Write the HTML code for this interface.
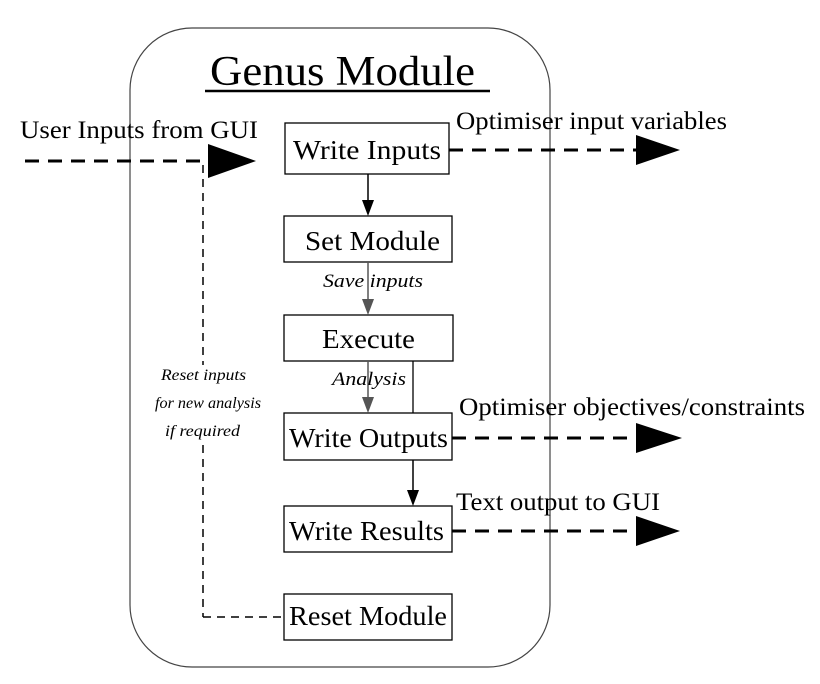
<!DOCTYPE html>
<html><head><style>body{margin:0;background:#fff}</style></head><body>
<svg width="820" height="679" viewBox="0 0 820 679" xmlns="http://www.w3.org/2000/svg" font-family="Liberation Serif, serif">
<rect x="130" y="28" width="420" height="639" rx="62" fill="none" stroke="#444" stroke-width="1.2"/>
<text x="210" y="85" font-size="42" textLength="265" lengthAdjust="spacingAndGlyphs">Genus Module</text>
<line x1="205" y1="91" x2="490" y2="91" stroke="#000" stroke-width="2.5"/>
<g fill="#fff" stroke="#000" stroke-width="1.3">
<rect x="285" y="123" width="164" height="51"/>
<rect x="284" y="216" width="168" height="46"/>
<rect x="284" y="315" width="169" height="46"/>
<rect x="284" y="413" width="168" height="47"/>
<rect x="284" y="506" width="168" height="46"/>
<rect x="284" y="594" width="168" height="46"/>
</g>
<g font-size="27" lengthAdjust="spacingAndGlyphs">
<text x="293" y="159" textLength="148" lengthAdjust="spacingAndGlyphs">Write Inputs</text>
<text x="305" y="250" textLength="135" lengthAdjust="spacingAndGlyphs">Set Module</text>
<text x="322" y="348" textLength="93" lengthAdjust="spacingAndGlyphs">Execute</text>
<text x="289" y="447" textLength="159" lengthAdjust="spacingAndGlyphs">Write Outputs</text>
<text x="289" y="540" textLength="155" lengthAdjust="spacingAndGlyphs">Write Results</text>
<text x="289" y="625" textLength="158" lengthAdjust="spacingAndGlyphs">Reset Module</text>
</g>
<line x1="368" y1="174" x2="368" y2="203" stroke="#000" stroke-width="1.5"/>
<polygon points="362,200 374,200 368,216" fill="#000"/>
<line x1="368" y1="262" x2="368" y2="302" stroke="#555" stroke-width="1.5"/>
<polygon points="362,299 374,299 368,315" fill="#555"/>
<line x1="368" y1="361" x2="368" y2="400" stroke="#555" stroke-width="1.5"/>
<polygon points="362,397 374,397 368,413" fill="#555"/>
<line x1="413" y1="361" x2="413" y2="413" stroke="#000" stroke-width="1.3"/>
<line x1="413" y1="460" x2="413" y2="493" stroke="#000" stroke-width="1.5"/>
<polygon points="407,490 419,490 413,506" fill="#000"/>
<g font-size="19" font-style="italic">
<text x="323" y="287" textLength="100" lengthAdjust="spacingAndGlyphs">Save inputs</text>
<text x="332" y="385" textLength="74" lengthAdjust="spacingAndGlyphs">Analysis</text>
</g>
<g font-size="16" font-style="italic">
<text x="161" y="380" textLength="85" lengthAdjust="spacingAndGlyphs">Reset inputs</text>
<text x="155" y="408" textLength="106" lengthAdjust="spacingAndGlyphs">for new analysis</text>
<text x="165" y="436" textLength="75" lengthAdjust="spacingAndGlyphs">if required</text>
</g>
<g stroke="#000" stroke-width="3" stroke-dasharray="14,9" fill="none">
<line x1="25" y1="161" x2="212" y2="161"/>
<line x1="449" y1="150" x2="640" y2="150"/>
<line x1="452" y1="438" x2="640" y2="438"/>
<line x1="452" y1="531" x2="640" y2="531"/>
</g>
<g stroke="#000" stroke-width="1.5" stroke-dasharray="8,6" fill="none">
<line x1="203" y1="165" x2="203" y2="365"/>
<line x1="203" y1="445" x2="203" y2="617"/>
<line x1="203" y1="617" x2="284" y2="617"/>
</g>
<polygon points="208,144 256,161 208,178" fill="#000"/>
<polygon points="636,135 680,150 636,165" fill="#000"/>
<polygon points="636,423 682,438 636,453" fill="#000"/>
<polygon points="636,516 680,531 636,546" fill="#000"/>
<g font-size="25">
<text x="20" y="138" textLength="238" lengthAdjust="spacingAndGlyphs">User Inputs from GUI</text>
<text x="456" y="129" textLength="271" lengthAdjust="spacingAndGlyphs">Optimiser input variables</text>
<text x="459" y="415" textLength="346" lengthAdjust="spacingAndGlyphs">Optimiser objectives/constraints</text>
<text x="456" y="510" textLength="204" lengthAdjust="spacingAndGlyphs">Text output to GUI</text>
</g>
</svg>
</body></html>
